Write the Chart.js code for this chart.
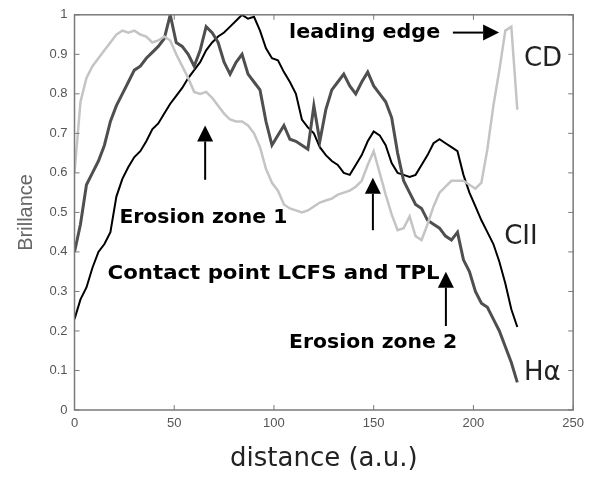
<!DOCTYPE html>
<html>
<head>
<meta charset="utf-8">
<script src="https://cdn.jsdelivr.net/npm/chart.js@4.4.0/dist/chart.umd.min.js"></script>
<style>
  html, body { margin: 0; padding: 0; background: #fff; }
  #wrap { width: 590px; height: 479px; }
</style>
</head>
<body>
<div id="wrap"><canvas id="myChart" width="590" height="479"></canvas></div>
<script>
// data
var distance = [0, 3, 6, 9, 12, 15, 18, 21, 24, 27, 30, 33, 36, 39, 42, 45, 48, 51, 54, 57,
  60, 63, 66, 69, 72, 75, 78, 81, 84, 87, 90, 93, 96, 99, 102, 105, 108, 111, 114, 117,
  120, 123, 126, 129, 132, 135, 138, 141, 144, 147, 150, 153, 156, 159, 162, 165, 168, 171, 174, 177,
  180, 183, 186, 189, 192, 195, 198, 201, 204, 207, 210, 213, 216, 219, 222];

var cdValues = [0.60, 0.78, 0.84, 0.87, 0.89, 0.91, 0.93, 0.95, 0.96, 0.955, 0.96, 0.95, 0.945, 0.93, 0.935, 0.945, 0.935, 0.90, 0.87, 0.84,
  0.805, 0.80, 0.805, 0.79, 0.77, 0.75, 0.735, 0.73, 0.73, 0.72, 0.70, 0.665, 0.61, 0.575, 0.555, 0.52, 0.51, 0.505, 0.50, 0.505,
  0.515, 0.525, 0.53, 0.535, 0.545, 0.55, 0.555, 0.565, 0.58, 0.62, 0.655, 0.60, 0.545, 0.495, 0.455, 0.46, 0.49, 0.44, 0.43, 0.47,
  0.515, 0.55, 0.565, 0.58, 0.58, 0.58, 0.57, 0.56, 0.575, 0.66, 0.77, 0.86, 0.96, 0.97, 0.76];

var ciiValues = [0.23, 0.28, 0.31, 0.36, 0.40, 0.42, 0.45, 0.54, 0.585, 0.615, 0.64, 0.655, 0.68, 0.71, 0.725, 0.75, 0.775, 0.795, 0.815, 0.84,
  0.86, 0.88, 0.91, 0.93, 0.945, 0.955, 0.97, 0.985, 1.0, 0.99, 0.995, 0.96, 0.915, 0.89, 0.885, 0.855, 0.83, 0.80, 0.735, 0.715,
  0.70, 0.665, 0.645, 0.63, 0.62, 0.60, 0.595, 0.62, 0.645, 0.68, 0.705, 0.695, 0.67, 0.625, 0.60, 0.595, 0.59, 0.595, 0.62, 0.645,
  0.675, 0.685, 0.675, 0.665, 0.655, 0.595, 0.55, 0.515, 0.48, 0.45, 0.42, 0.375, 0.32, 0.255, 0.21];

var haValues = [0.40, 0.47, 0.57, 0.60, 0.63, 0.67, 0.73, 0.77, 0.80, 0.83, 0.86, 0.87, 0.89, 0.905, 0.92, 0.94, 1.0, 0.93, 0.92, 0.90,
  0.87, 0.91, 0.97, 0.955, 0.93, 0.88, 0.85, 0.88, 0.90, 0.85, 0.83, 0.81, 0.73, 0.67, 0.695, 0.72, 0.685, 0.68, 0.67, 0.66,
  0.77, 0.68, 0.76, 0.81, 0.83, 0.85, 0.82, 0.80, 0.83, 0.855, 0.82, 0.80, 0.78, 0.74, 0.65, 0.58, 0.55, 0.52, 0.51, 0.48,
  0.47, 0.46, 0.44, 0.43, 0.45, 0.38, 0.35, 0.30, 0.27, 0.26, 0.23, 0.20, 0.16, 0.12, 0.07];

var xTicks = [0, 50, 100, 150, 200, 250];
var yTicks = [0, 0.1, 0.2, 0.3, 0.4, 0.5, 0.6, 0.7, 0.8, 0.9, 1];

// notes: text, x, y (data units)
var notes = [
  ["leading edge", 107.6, 0.955],
  ["Erosion zone 1", 22.5, 0.4875],
  ["Contact point LCFS and TPL", 16.6, 0.345],
  ["Erosion zone 2", 107.6, 0.17]
];
// how wide each note is drawn, px
var noteWidths = [151, 168, 332, 168];
// arrows: x0, y0, x1, y1 (tail -> head)
var arrows = [
  [189.7, 0.955, 212.9, 0.955],
  [65.5, 0.5825, 65.5, 0.72],
  [149.6, 0.455, 149.6, 0.5875],
  [186.2, 0.2125, 186.2, 0.35]
];
var seriesNames = [["CD", 225.3, 0.8875], ["CII", 215.4, 0.4375], ["H\u03b1", 225.3, 0.0925]];

function pts(ys) {
  var out = [];
  for (var i = 0; i < distance.length; i++) out.push({ x: distance[i], y: ys[i] });
  return out;
}

var frameColor = "#7a7a7a";

var extrasPlugin = {
  id: "extras",
  afterDatasetsDraw: function(chart) {
    var ctx = chart.ctx;
    var a = chart.chartArea;
    var sx = chart.scales.x, sy = chart.scales.y;
    ctx.save();
    // box
    ctx.strokeStyle = frameColor;
    ctx.lineWidth = 1.5;
    ctx.strokeRect(a.left, a.top, a.right - a.left, a.bottom - a.top);
    // inward ticks
    ctx.lineWidth = 1;
    xTicks.forEach(function(v) {
      var px = sx.getPixelForValue(v);
      ctx.beginPath();
      ctx.moveTo(px, a.bottom); ctx.lineTo(px, a.bottom - 5);
      ctx.moveTo(px, a.top); ctx.lineTo(px, a.top + 5);
      ctx.stroke();
    });
    yTicks.forEach(function(v) {
      var py = sy.getPixelForValue(v);
      ctx.beginPath();
      ctx.moveTo(a.left, py); ctx.lineTo(a.left + 5, py);
      ctx.moveTo(a.right, py); ctx.lineTo(a.right - 5, py);
      ctx.stroke();
    });

    // annotation text, stretched to the width seen in the picture
    ctx.fillStyle = "#000";
    ctx.textBaseline = "middle";
    ctx.textAlign = "left";
    ctx.font = "bold 20px 'DejaVu Sans'";
    notes.forEach(function(n, i) {
      var w = ctx.measureText(n[0]).width;
      ctx.save();
      ctx.translate(sx.getPixelForValue(n[1]), sy.getPixelForValue(n[2]));
      ctx.scale(noteWidths[i] / w, 1);
      ctx.fillText(n[0], 0, 0);
      ctx.restore();
    });
    ctx.font = "26px 'DejaVu Sans'";
    ctx.fillStyle = "#222";
    seriesNames.forEach(function(n) {
      ctx.fillText(n[0], sx.getPixelForValue(n[1]), sy.getPixelForValue(n[2]));
    });

    // arrows
    ctx.strokeStyle = "#000";
    ctx.fillStyle = "#000";
    ctx.lineWidth = 2;
    arrows.forEach(function(r) {
      var x0 = sx.getPixelForValue(r[0]), y0 = sy.getPixelForValue(r[1]);
      var x1 = sx.getPixelForValue(r[2]), y1 = sy.getPixelForValue(r[3]);
      var ang = Math.atan2(y1 - y0, x1 - x0);
      var hl = 16, hw = 8;
      var bx = x1 - hl * Math.cos(ang), by = y1 - hl * Math.sin(ang);
      ctx.beginPath();
      ctx.moveTo(x0, y0); ctx.lineTo(bx, by);
      ctx.stroke();
      ctx.beginPath();
      ctx.moveTo(x1, y1);
      ctx.lineTo(bx + hw * Math.sin(ang), by - hw * Math.cos(ang));
      ctx.lineTo(bx - hw * Math.sin(ang), by + hw * Math.cos(ang));
      ctx.closePath();
      ctx.fill();
    });
    ctx.restore();
  }
};

new Chart("myChart", {
  type: "line",
  data: {
    datasets: [
      { label: "CD", data: pts(cdValues), borderColor: "#c4c4c4", borderWidth: 2.5, pointRadius: 0, tension: 0 },
      { label: "Ha", data: pts(haValues), borderColor: "#4f4f4f", borderWidth: 3, pointRadius: 0, tension: 0 },
      { label: "CII", data: pts(ciiValues), borderColor: "#000", borderWidth: 2, pointRadius: 0, tension: 0 }
    ]
  },
  options: {
    responsive: false,
    animation: false,
    layout: { padding: { top: 10, right: 10, left: 0, bottom: 0 } },
    plugins: { legend: { display: false }, tooltip: { enabled: false } },
    scales: {
      x: {
        type: "linear", min: 0, max: 250,
        afterBuildTicks: function(s) { s.ticks = xTicks.map(function(v) { return { value: v }; }); },
        afterFit: function(s) { s.height = 69; },
        grid: { display: false, drawTicks: false, tickLength: 0 },
        border: { display: false },
        ticks: { color: "#555", font: { family: "'Liberation Sans'", size: 13 }, padding: 6, maxRotation: 0 },
        title: { display: true, text: "distance (a.u.)", color: "#222", font: { family: "'DejaVu Sans'", size: 26 }, padding: { top: 6, bottom: 4 } }
      },
      y: {
        min: 0, max: 1,
        afterBuildTicks: function(s) { s.ticks = yTicks.map(function(v) { return { value: v }; }); },
        afterFit: function(s) { s.width = 74.5; },
        grid: { display: false, drawTicks: false, tickLength: 0 },
        border: { display: false },
        ticks: { color: "#555", font: { family: "'Liberation Sans'", size: 13 }, padding: 7,
          callback: function(v) { return String(v); } },
        title: { display: true, text: "Brillance", color: "#666", font: { family: "'Liberation Sans'", size: 20 }, padding: { top: 14, bottom: 0 } }
      }
    }
  },
  plugins: [extrasPlugin]
});
</script>
</body>
</html>
